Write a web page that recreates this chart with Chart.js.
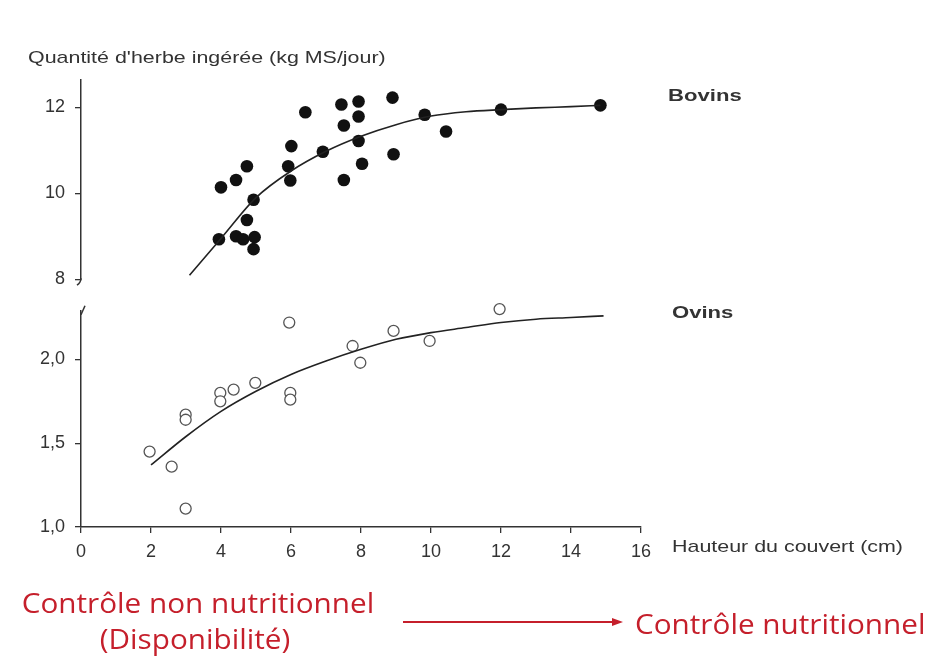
<!DOCTYPE html>
<html>
<head>
<meta charset="utf-8">
<script src="https://cdn.jsdelivr.net/npm/chart.js@4.4.0/dist/chart.umd.min.js"></script>
<style>
body { margin: 0; background: #fff; width: 928px; height: 662px; overflow: hidden; position: relative; font-family: "Liberation Sans", Arial, sans-serif; }
canvas { position: absolute; left: 0; }
#top { top: 0; }
#bottom { top: 290px; }
.lbl { position: absolute; color: #333; font-size: 17px; white-space: nowrap; line-height: 1; transform-origin: left center; transform: scaleX(1.26); }
.red { position: absolute; color: #c51f2b; font-family: "Open Sans", Lato, sans-serif; font-size: 27px; white-space: nowrap; line-height: 1; font-variant-ligatures: none; transform: scaleX(1.1); }
</style>
</head>
<body>
<canvas id="top" width="928" height="300"></canvas>
<canvas id="bottom" width="928" height="300"></canvas>

<div class="lbl" style="left:28px;top:49px">Quantité d'herbe ingérée (kg MS/jour)</div>
<div class="lbl" style="left:668px;top:87px;font-weight:bold;transform:scaleX(1.3)">Bovins</div>
<div class="lbl" style="left:672px;top:304px;font-weight:bold;transform:scaleX(1.3)">Ovins</div>
<div class="lbl" style="left:672px;top:538px">Hauteur du couvert (cm)</div>

<div class="red" style="left:0;width:396px;text-align:center;top:589px">Contrôle non nutritionnel</div>
<div class="red" style="left:0;width:390px;text-align:center;top:625px">(Disponibilité)</div>
<svg style="position:absolute;left:400px;top:612px" width="230" height="20">
  <line x1="3" y1="10" x2="214" y2="10" stroke="#c51f2b" stroke-width="2"/>
  <polygon points="223,10 212,6 212,14" fill="#c51f2b"/>
</svg>
<div class="red" style="left:635px;top:610px;transform-origin:left center">Contrôle nutritionnel</div>

<script>
// hauteur du couvert (cm) -> quantité ingérée
const bovinsX = [4.0, 4.43, 4.74, 4.93, 4.74, 3.94, 4.43, 4.63, 4.96, 4.93, 6.01, 5.92, 5.98, 6.41, 6.91, 7.44, 7.51, 7.51, 7.93, 7.93, 7.93, 8.03, 8.9, 8.93, 9.82, 10.43, 12.0, 14.84]
const bovinsY = [10.14, 10.31, 10.63, 9.85, 9.38, 8.93, 9.0, 8.93, 8.98, 8.70, 11.10, 10.63, 10.30, 11.89, 10.97, 12.07, 11.58, 10.31, 12.14, 11.79, 11.22, 10.69, 12.23, 10.91, 11.83, 11.44, 11.95, 12.05]
const bovinsCurveX = [3.1, 4, 5, 6, 7, 8, 9, 10, 11, 12, 13, 14, 14.84]
const bovinsCurveY = [8.09, 8.95, 9.9, 10.52, 10.98, 11.33, 11.6, 11.8, 11.9, 11.95, 11.99, 12.02, 12.05]

const ovinsX = [1.96, 2.59, 2.99, 2.99, 2.99, 3.98, 3.98, 4.36, 4.98, 5.95, 5.98, 5.98, 7.76, 7.98, 8.93, 9.96, 11.96]
const ovinsY = [1.45, 1.36, 1.11, 1.67, 1.64, 1.80, 1.75, 1.82, 1.86, 2.22, 1.80, 1.76, 2.08, 1.98, 2.17, 2.11, 2.30]
const ovinsCurveX = [2, 3, 4, 5, 6, 7, 8, 9, 10, 11, 12, 13, 14, 14.93]
const ovinsCurveY = [1.37, 1.54, 1.69, 1.81, 1.91, 1.99, 2.06, 2.12, 2.16, 2.19, 2.22, 2.24, 2.25, 2.26]

const xTicks = [0, 2, 4, 6, 8, 10, 12, 14, 16]
const bovinsTicks = [8, 10, 12]
const ovinsTicks = [1.0, 1.5, 2.0]

const ink = "#333"
const pts = (xs, ys) => xs.map((x, i) => ({ x: x, y: ys[i] }))

// petit trait de coupure sur l'axe vertical
function breakMark(where) {
    return {
        id: "break" + where,
        afterDraw(chart) {
            let c = chart.ctx, a = chart.chartArea
            c.save()
            c.strokeStyle = ink
            c.lineWidth = 1.5
            c.beginPath()
            if (where == "bottom") {
                c.moveTo(a.left, a.bottom - 1)
                c.quadraticCurveTo(a.left, a.bottom + 3, a.left - 4, a.bottom + 6)
            } else {
                c.moveTo(a.left, a.top + 4)
                c.lineTo(a.left + 4, a.top - 5)
            }
            c.stroke()
            c.restore()
        }
    }
}

const yAxis = (min, max, ticks, fmt) => ({
    min: min,
    max: max,
    afterFit: s => { s.width = 81 },
    afterBuildTicks: s => { s.ticks = ticks.map(v => ({ value: v })) },
    grid: { drawOnChartArea: false, tickLength: 6, color: ink, lineWidth: 1.3 },
    border: { color: ink, width: 1.5 },
    ticks: { color: ink, padding: 10, font: { size: 18, family: "Liberation Sans" }, callback: fmt }
})

const common = {
    responsive: false,
    animation: false,
    events: [],
    plugins: { legend: { display: false }, tooltip: { enabled: false } }
}

new Chart(document.getElementById("top"), {
    type: "scatter",
    data: {
        datasets: [
            {
                data: pts(bovinsCurveX, bovinsCurveY),
                showLine: true,
                pointRadius: 0,
                borderColor: "#222",
                borderWidth: 1.6,
                cubicInterpolationMode: "monotone",
                clip: false
            },
            {
                data: pts(bovinsX, bovinsY),
                pointRadius: 6.3,
                backgroundColor: "#111",
                borderColor: "#111",
                borderWidth: 0,
                clip: false
            }
        ]
    },
    options: {
        ...common,
        layout: { autoPadding: false, padding: { top: 80, right: 287, bottom: 20, left: 0 } },
        scales: {
            x: { type: "linear", min: 0, max: 16, display: false },
            y: yAxis(8, 12.64, bovinsTicks, v => v)
        }
    },
    plugins: [breakMark("bottom")]
})

new Chart(document.getElementById("bottom"), {
    type: "scatter",
    data: {
        datasets: [
            {
                data: pts(ovinsCurveX, ovinsCurveY),
                showLine: true,
                pointRadius: 0,
                borderColor: "#222",
                borderWidth: 1.6,
                cubicInterpolationMode: "monotone",
                clip: false
            },
            {
                data: pts(ovinsX, ovinsY),
                pointRadius: 5.5,
                backgroundColor: "#fff",
                borderColor: "#555",
                borderWidth: 1.3,
                clip: false
            }
        ]
    },
    options: {
        ...common,
        layout: { autoPadding: false, padding: { top: 20, right: 287, bottom: 23, left: 0 } },
        scales: {
            x: {
                type: "linear",
                min: 0,
                max: 16,
                afterFit: s => { s.height = 40 },
                afterBuildTicks: s => { s.ticks = xTicks.map(v => ({ value: v })) },
                grid: { drawOnChartArea: false, tickLength: 6, color: ink, lineWidth: 1.3 },
                border: { color: ink, width: 1.5 },
                ticks: { color: ink, padding: 8, maxRotation: 0, font: { size: 18, family: "Liberation Sans" } }
            },
            y: yAxis(1.0, 2.29, ovinsTicks, v => v.toFixed(1).replace(".", ","))
        }
    },
    plugins: [breakMark("top")]
})
</script>
</body>
</html>
